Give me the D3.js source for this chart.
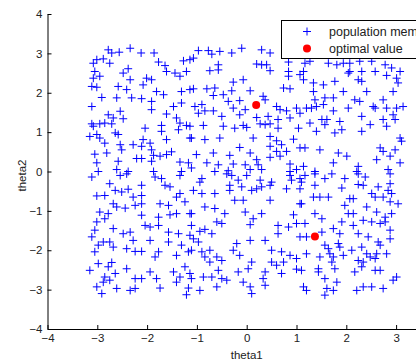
<!DOCTYPE html>
<html>
<head>
<meta charset="utf-8">
<script src="https://cdn.jsdelivr.net/npm/d3@7"></script>
<style>
  body { margin: 0; background: #fff; overflow: hidden; }
  svg { display: block; font-family: "Liberation Sans", Arial, sans-serif; }
</style>
</head>
<body>
<div id="chart"></div>
<script>
// population members, [theta1, theta2]
const population = [
  [-2.78,3.09],[-2.71,3.01],[-2.56,3.03],[-2.34,3.13],[-2.12,3.01],[-1.86,3.01],[-3.01,2.84],[-2.88,2.86],
  [-3.08,2.75],[-2.75,2.75],[-1.77,2.78],[-1.64,2.69],[-1.27,2.81],[-1.14,2.84],[-3.05,2.54],[-3.08,2.37],
  [-2.95,2.42],[-2.48,2.50],[-2.38,2.61],[-2.34,2.33],[-2.01,2.37],[-1.91,2.33],[-1.61,2.54],[-1.44,2.50],
  [-1.21,2.54],[-1.34,2.42],[-3.11,2.16],[-3.01,2.14],[-2.58,2.16],[-2.41,2.08],[-2.08,2.20],[-1.81,2.03],
  [-1.67,1.95],[-1.31,2.03],[-1.14,2.08],[-2.91,1.88],[-2.61,1.87],[-2.31,1.87],[-2.11,1.85],[-1.91,1.78],
  [-3.11,1.65],[-2.54,1.53],[-1.91,1.57],[-1.47,1.65],[-1.31,1.74],[-1.61,1.46],[-1.41,1.36],[-2.78,1.44],
  [-2.68,1.36],[-2.48,1.34],[-3.11,1.21],[-3.08,1.15],[-2.95,1.21],[-2.85,1.23],[-2.71,1.21],[-2.04,1.10],
  [-1.71,1.17],[-1.71,1.02],[-1.34,1.23],[-1.21,1.17],[-1.14,1.15],[-1.37,1.06],[-3.15,0.89],[-3.01,0.94],
  [-2.95,0.85],[-2.85,0.72],[-2.64,0.98],[-2.58,0.94],[-2.08,0.81],[-1.94,0.72],[-1.61,0.81],[-1.14,0.85],
  [-3.05,0.44],[-2.81,0.47],[-2.54,0.68],[-2.51,0.55],[-2.28,0.68],[-2.11,0.64],[-1.91,0.55],[-1.87,0.41],
  [-1.74,0.39],[-1.61,0.43],[-1.51,0.50],[-3.01,0.22],[-2.58,0.26],[-2.21,0.33],[-2.11,0.33],[-1.91,0.26],
  [-1.34,0.24],[-1.17,0.22],[-2.98,0.00],[-2.61,0.05],[-2.38,0.00],[-1.87,0.00],[-1.31,0.00],
  [-0.97,3.07],[-0.77,3.07],[-0.70,2.98],[-0.54,3.05],[-0.30,3.01],[-0.10,3.13],[0.30,3.09],[0.47,3.01],
  [-1.07,2.88],[-0.74,2.56],[-0.57,2.71],[-0.57,2.58],[0.20,2.73],[0.30,2.71],[0.40,2.71],[0.47,2.56],
  [0.84,2.78],[0.84,2.54],[0.84,2.42],[1.07,2.46],[-0.27,2.27],[-0.07,2.33],[-1.07,2.10],[-0.80,2.10],
  [-0.64,2.12],[-0.30,2.05],[0.07,2.05],[0.74,2.12],[0.87,2.10],[-0.67,1.93],[-0.47,1.95],[0.33,1.91],
  [0.37,1.82],[-0.37,1.78],[-0.14,1.80],[-1.04,1.65],[-0.90,1.70],[0.60,1.65],[0.67,1.57],[0.80,1.54],
  [1.00,1.61],[1.07,1.48],[-0.97,1.48],[-0.84,1.54],[-0.67,1.54],[-0.50,1.40],[-0.27,1.61],[-0.14,1.44],
  [-0.03,1.57],[0.20,1.37],[0.43,1.40],[0.47,1.21],[0.63,1.32],[0.87,1.36],[-0.87,1.17],[-0.47,1.15],
  [-0.24,1.10],[-0.07,1.17],[0.00,1.12],[0.27,1.21],[0.37,1.19],[0.63,1.10],[1.04,1.10],[-1.11,0.85],
  [-0.84,0.81],[-0.54,0.85],[0.13,0.85],[0.47,0.89],[0.60,0.78],[0.70,0.68],[0.94,0.82],[1.07,0.60],
  [-1.01,0.43],[-0.67,0.47],[-0.34,0.41],[-0.14,0.61],[0.07,0.47],[0.47,0.64],[0.60,0.51],[0.80,0.51],
  [-0.80,0.22],[-0.57,0.17],[-0.27,0.19],[-0.03,0.17],[0.20,0.30],[0.23,0.17],[0.47,0.36],[0.67,0.39],
  [0.87,0.19],[-1.11,0.09],[-0.64,0.00],[-0.37,0.02],[0.07,0.05],[0.30,0.05],[0.87,0.00],[1.00,0.05],
  [1.17,2.75],[1.14,2.54],[1.14,2.33],[1.27,2.80],[1.64,2.75],[1.81,2.71],[1.94,2.75],[2.07,2.75],
  [2.27,2.80],[2.51,2.80],[2.78,2.71],[2.91,2.63],[3.08,2.54],[1.34,2.25],[1.54,2.20],[1.77,2.29],
  [2.07,2.54],[2.04,2.50],[2.31,2.54],[2.58,2.54],[2.81,2.44],[3.01,2.37],[2.24,2.33],[2.31,2.29],
  [3.04,2.25],[1.34,2.03],[1.94,2.03],[2.41,2.03],[2.94,2.03],[1.37,1.82],[1.57,1.87],[1.74,1.87],
  [2.17,1.82],[2.27,1.78],[2.74,1.82],[1.20,1.61],[1.30,1.61],[1.40,1.65],[1.54,1.70],[1.74,1.54],
  [2.04,1.61],[2.54,1.65],[2.58,1.61],[2.81,1.61],[3.01,1.61],[3.14,1.65],[2.94,1.44],[2.31,1.40],
  [1.51,1.32],[1.61,1.32],[1.57,1.19],[1.27,1.23],[1.87,1.27],[2.48,1.19],[2.74,1.32],[2.98,1.32],
  [1.77,0.98],[1.91,1.06],[1.40,1.02],[2.31,1.02],[2.81,1.15],[3.08,0.85],[3.11,0.77],[1.17,0.60],
  [1.47,0.55],[1.84,0.47],[2.01,0.39],[2.68,0.60],[2.74,0.51],[2.98,0.55],[2.61,0.30],[2.88,0.39],
  [3.08,0.22],[1.14,0.13],[1.74,0.22],[2.24,0.13],[2.84,0.05],[1.37,0.00],[2.21,0.00],
  [-3.11,-0.14],[-2.54,-0.10],[-2.41,-0.06],[-1.84,-0.14],[-1.71,-0.18],[-1.34,-0.10],[-2.75,-0.31],[-2.11,-0.35],
  [-1.64,-0.35],[-1.54,-0.39],[-3.01,-0.62],[-2.85,-0.61],[-2.64,-0.48],[-2.51,-0.52],[-2.38,-0.45],[-2.28,-0.65],
  [-2.11,-0.61],[-1.41,-0.65],[-1.34,-0.56],[-1.24,-0.77],[-2.68,-0.82],[-2.61,-0.90],[-2.44,-0.93],[-2.24,-0.86],
  [-2.11,-0.82],[-1.74,-0.82],[-1.57,-0.86],[-2.95,-1.03],[-2.78,-1.07],[-2.85,-1.20],[-2.11,-1.11],[-1.77,-1.16],
  [-1.54,-1.10],[-1.41,-1.07],[-1.14,-1.07],[-3.01,-1.28],[-2.04,-1.37],[-1.94,-1.41],[-1.77,-1.37],[-3.05,-1.49],
  [-2.68,-1.45],[-2.48,-1.58],[-2.34,-1.54],[-1.57,-1.54],[-1.37,-1.58],[-3.11,-1.66],[-2.88,-1.79],[-2.75,-1.79],
  [-2.28,-1.75],[-1.94,-1.75],[-1.57,-1.79],[-1.14,-1.62],[-2.98,-1.87],[-2.68,-1.92],[-2.41,-1.96],[-2.24,-2.03],
  [-2.11,-2.03],[-1.77,-2.04],[-1.84,-2.17],[-1.31,-1.87],[-1.17,-2.04],[-3.05,-2.04],[-1.41,-2.13],[-2.98,-2.34],
  [-2.71,-2.31],[-2.78,-2.42],[-3.15,-2.51],[-2.41,-2.47],[-1.94,-2.55],[-1.47,-2.55],[-1.24,-2.42],[-1.14,-2.59],
  [-2.85,-2.68],[-2.64,-2.59],[-2.88,-2.81],[-2.75,-2.76],[-2.24,-2.72],[-2.11,-2.72],[-1.81,-2.72],[-1.34,-2.68],
  [-1.41,-2.81],[-3.01,-2.93],[-2.61,-2.97],[-2.34,-3.02],[-2.24,-2.97],[-1.74,-2.96],[-1.17,-2.96],[-2.91,-3.10],
  [-1.21,-3.13],
  [-0.90,-0.18],[-0.94,-0.27],[-0.40,-0.06],[-0.30,-0.10],[-0.17,-0.22],[0.00,-0.10],[0.27,-0.22],[0.50,-0.27],
  [0.87,-0.10],[0.90,-0.22],[1.07,-0.18],[-0.34,-0.35],[-0.10,-0.39],[-1.07,-0.48],[-0.90,-0.56],[-0.64,-0.56],
  [-0.34,-0.48],[0.10,-0.48],[0.20,-0.44],[0.30,-0.39],[0.47,-0.35],[0.80,-0.44],[1.07,-0.44],[-0.24,-0.73],
  [-0.07,-0.73],[0.47,-0.73],[1.07,-0.82],[-0.84,-0.90],[-0.64,-0.94],[-0.44,-1.07],[-0.03,-1.03],[0.30,-1.07],
  [0.94,-1.10],[-1.11,-1.07],[-0.60,-1.28],[-0.50,-1.32],[0.13,-1.20],[0.07,-1.35],[0.63,-1.37],[0.84,-1.41],
  [1.00,-1.32],[-1.11,-1.37],[-0.94,-1.52],[-0.84,-1.47],[-0.70,-1.58],[0.63,-1.58],[1.07,-1.66],[-1.07,-1.71],
  [-0.97,-1.79],[-0.20,-1.83],[0.07,-1.75],[0.37,-1.75],[-1.11,-2.00],[-0.90,-2.04],[-0.74,-2.00],[-0.27,-2.00],
  [-0.14,-2.13],[0.50,-2.00],[0.70,-2.04],[0.87,-2.13],[-0.84,-2.17],[-0.60,-2.17],[-0.74,-2.30],[-0.50,-2.26],
  [0.10,-2.30],[0.50,-2.30],[0.60,-2.38],[0.74,-2.30],[1.00,-2.21],[0.03,-2.47],[-0.17,-2.55],[-0.57,-2.51],
  [0.37,-2.55],[0.70,-2.59],[1.00,-2.48],[-1.11,-2.72],[-0.87,-2.68],[-0.70,-2.68],[-0.50,-2.72],[-0.40,-2.76],
  [-0.07,-2.81],[0.33,-2.72],[0.37,-2.89],[0.07,-2.93],[-0.60,-2.93],[-0.94,-3.02],[0.10,-3.10],
  [1.17,-0.10],[1.37,-0.06],[1.57,-0.18],[1.71,-0.06],[1.97,-0.18],[2.24,-0.06],[2.38,-0.14],[2.88,-0.06],
  [1.10,-0.27],[1.37,-0.35],[1.91,-0.42],[2.24,-0.33],[2.34,-0.35],[2.64,-0.39],[2.88,-0.31],[2.84,-0.48],
  [2.51,-0.56],[2.91,-0.56],[1.34,-0.65],[1.47,-0.65],[1.64,-0.65],[2.07,-0.69],[2.14,-0.69],[2.58,-0.65],
  [2.74,-0.65],[2.88,-0.77],[3.04,-0.82],[1.97,-0.86],[2.41,-0.90],[1.10,-0.82],[2.04,-1.07],[2.14,-1.07],
  [2.61,-1.03],[2.91,-1.07],[1.37,-1.07],[1.51,-1.20],[2.78,-1.16],[1.17,-1.32],[1.91,-1.28],[2.14,-1.37],
  [2.34,-1.24],[2.51,-1.28],[2.68,-1.32],[2.78,-1.28],[1.74,-1.45],[1.51,-1.54],[1.87,-1.58],[2.24,-1.58],
  [2.44,-1.66],[2.88,-1.49],[1.20,-1.66],[2.88,-1.71],[1.57,-1.87],[1.64,-1.96],[1.84,-1.83],[1.87,-1.92],
  [2.11,-2.00],[2.31,-1.92],[2.64,-1.79],[2.68,-1.87],[1.20,-2.09],[1.47,-2.17],[1.67,-2.09],[1.74,-2.17],
  [1.94,-2.13],[2.41,-2.09],[2.48,-2.17],[2.61,-2.09],[2.81,-2.09],[1.71,-2.30],[2.24,-2.26],[2.34,-2.30],
  [2.58,-2.21],[1.44,-2.47],[1.77,-2.47],[2.17,-2.55],[2.31,-2.42],[2.58,-2.51],[2.68,-2.51],[1.10,-2.51],
  [1.44,-2.55],[3.01,-2.68],[2.94,-2.76],[1.57,-2.72],[1.81,-2.81],[2.34,-2.93],[2.51,-2.93],[2.74,-2.97],
  [1.14,-2.93],[1.20,-3.02],[1.61,-2.97],[1.74,-3.02],[2.21,-3.02],[1.57,-3.14]
];

// optimal values
const optimal = [[0.19, 1.69], [1.37, -1.65]];

const xTicks = [-4, -3, -2, -1, 0, 1, 2, 3];
const yTicks = [-4, -3, -2, -1, 0, 1, 2, 3, 4];
const legendLabels = ["population members", "optimal value"];

const W = 416, H = 362;
const margin = {top: 14, left: 47.5, bottom: 33};
const plotW = 398.4, plotH = H - margin.top - margin.bottom;

const svg = d3.select("#chart").append("svg")
  .attr("width", W)
  .attr("height", H);

const x = d3.scaleLinear().domain([-4, 4]).range([margin.left, margin.left + plotW]);
const y = d3.scaleLinear().domain([-4, 4]).range([margin.top + plotH, margin.top]);

// population "+" markers
const plus = (cx, cy, r) => `M${cx - r},${cy}H${cx + r}M${cx},${cy - r}V${cy + r}`;
svg.append("path")
  .attr("d", population.map(d => plus(x(d[0]), y(d[1]), 4)).join(""))
  .attr("stroke", "#0000ff")
  .attr("stroke-width", 1)
  .attr("fill", "none");

svg.selectAll("circle.opt")
  .data(optimal)
  .enter().append("circle")
  .attr("class", "opt")
  .attr("cx", d => x(d[0]))
  .attr("cy", d => y(d[1]))
  .attr("r", 4)
  .attr("fill", "#ff0000");

// axes
const xAxis = svg.append("g")
  .attr("transform", `translate(0,${y(-4)})`)
  .call(d3.axisBottom(x).tickValues(xTicks).tickSize(-4).tickSizeOuter(0).tickPadding(5));
const yAxis = svg.append("g")
  .attr("transform", `translate(${x(-4)},0)`)
  .call(d3.axisLeft(y).tickValues(yTicks).tickSize(-4).tickSizeOuter(0).tickPadding(5));

[xAxis, yAxis].forEach(g => {
  g.selectAll("path, line").attr("stroke", "#000");
  g.selectAll("text").attr("fill", "#222").style("font-size", "11.5px")
    .style("font-family", "'Liberation Sans', Arial, sans-serif");
});

svg.append("text")
  .attr("x", x(0))
  .attr("y", 359)
  .attr("text-anchor", "middle")
  .attr("fill", "#222")
  .style("font-size", "11.5px")
  .text("theta1");

svg.append("text")
  .attr("transform", `translate(26,${y(0) + 4}) rotate(-90)`)
  .attr("text-anchor", "middle")
  .attr("fill", "#222")
  .style("font-size", "11.5px")
  .text("theta2");

// legend
const legend = svg.append("g").attr("transform", "translate(281.5,20.5)");
legend.append("rect")
  .attr("width", 160)
  .attr("height", 38)
  .attr("fill", "#fff")
  .attr("stroke", "#000");
legend.append("path")
  .attr("d", plus(25.5, 11, 4))
  .attr("stroke", "#0000ff")
  .attr("fill", "none");
legend.append("circle")
  .attr("cx", 25.5)
  .attr("cy", 28)
  .attr("r", 4)
  .attr("fill", "#ff0000");
legend.selectAll("text.lab")
  .data(legendLabels)
  .enter().append("text")
  .attr("class", "lab")
  .attr("x", 47.5)
  .attr("y", (d, i) => 15 + i * 17)
  .attr("fill", "#222")
  .style("font-size", "12.5px")
  .text(d => d);
</script>
</body>
</html>
